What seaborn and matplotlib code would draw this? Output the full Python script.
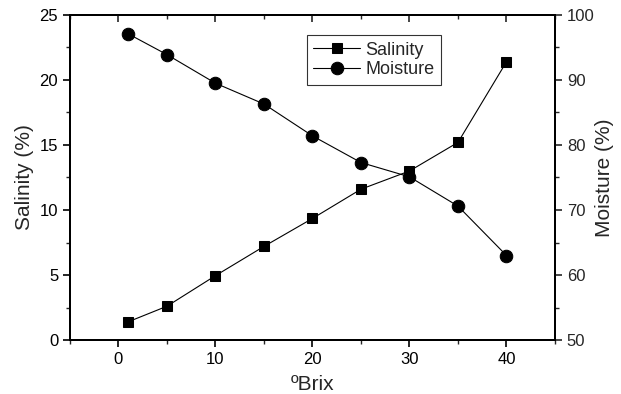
import matplotlib
matplotlib.use('Agg')
import matplotlib.pyplot as plt
import seaborn as sns
import pandas as pd
from matplotlib.ticker import MultipleLocator

# Dados
brix = [1, 5, 10, 15, 20, 25, 30, 35, 40]
salinidade = [1.4, 2.6, 4.95, 7.2, 9.35, 11.6, 13.0, 15.2, 21.4]
umidade = [97.1, 93.9, 89.5, 86.3, 81.4, 77.3, 75.1, 70.6, 63.0]

df = pd.DataFrame({'brix': brix, 'salinity': salinidade, 'moisture': umidade})

sns.set_style('ticks')
plt.rcParams['font.family'] = ['Liberation Sans', 'DejaVu Sans']

fig = plt.figure(figsize=(6.21, 3.94), dpi=100)
ax = fig.add_axes([0.1127, 0.137, 0.781, 0.825])
ax2 = ax.twinx()
ax3 = ax.twiny()  # só para os ticks do topo (para dentro)

sns.lineplot(data=df, x='brix', y='salinity', ax=ax, color='black', lw=0.8,
             marker='s', markersize=7.5, markeredgecolor='black', label='Salinity', legend=False)
sns.lineplot(data=df, x='brix', y='moisture', ax=ax2, color='black', lw=0.8,
             marker='o', markersize=9, markeredgecolor='black', label='Moisture', legend=False)

ax.set_xlim(-5, 45)
ax3.set_xlim(-5, 45)
ax.set_ylim(0, 25)
ax2.set_ylim(50, 100)
for a in (ax, ax3):
    a.xaxis.set_major_locator(MultipleLocator(10))
    a.xaxis.set_minor_locator(MultipleLocator(5))
ax.yaxis.set_major_locator(MultipleLocator(5))
ax.yaxis.set_minor_locator(MultipleLocator(2.5))
ax2.yaxis.set_major_locator(MultipleLocator(10))
ax2.yaxis.set_minor_locator(MultipleLocator(5))

ax.set_xlabel('ºBrix', fontsize=15, labelpad=6)
ax.set_ylabel('Salinity (%)', fontsize=15, labelpad=4)
ax2.set_ylabel('Moisture (%)', fontsize=15, labelpad=0)

for a in (ax, ax2, ax3):
    for s in a.spines.values():
        s.set_linewidth(1.3)
        s.set_color('black')
ax.tick_params(axis='both', which='major', labelsize=12, length=5, width=1.2, colors='black')
ax.tick_params(axis='both', which='minor', length=3, width=1)
ax2.tick_params(axis='y', which='major', labelsize=12, length=5, width=1.2)
ax2.tick_params(axis='y', which='minor', length=3, width=1)
ax3.tick_params(axis='x', which='major', direction='in', length=5, width=1.2,
                labeltop=False)
ax3.tick_params(axis='x', which='minor', direction='in', length=3, width=1)

h1, l1 = ax.get_legend_handles_labels()
h2, l2 = ax2.get_legend_handles_labels()
leg = ax3.legend(h1 + h2, l1 + l2, loc='upper left', bbox_to_anchor=(0.47, 0.965),
                 fontsize=13, frameon=True, fancybox=False, edgecolor='black',
                 handlelength=2.6, borderpad=0.35, labelspacing=0.15, handletextpad=0.3)
leg.get_frame().set_linewidth(0.8)

fig.savefig('out.png', dpi=100)
